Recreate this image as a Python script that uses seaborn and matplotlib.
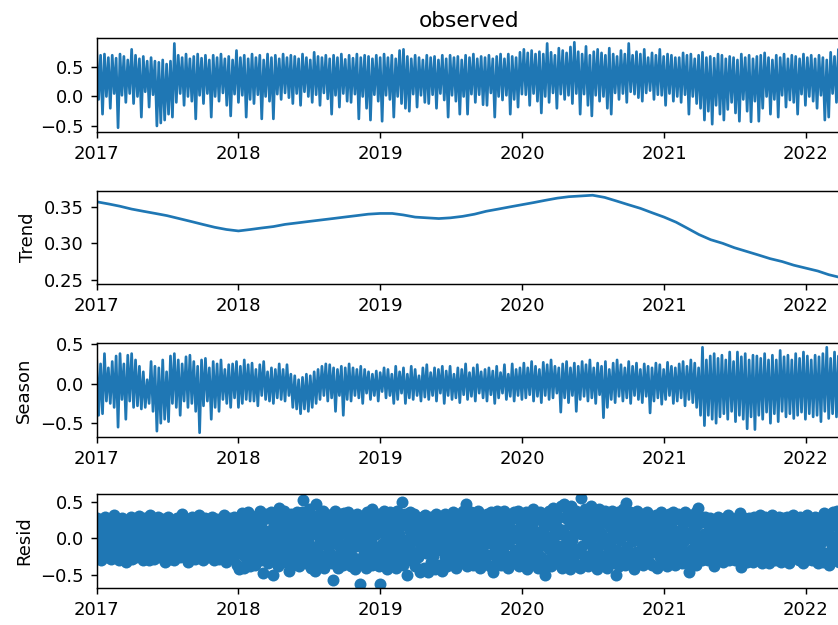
import numpy as np
import pandas as pd
import matplotlib
matplotlib.use("Agg")
import matplotlib.pyplot as plt
import matplotlib.dates as mdates
import matplotlib.ticker as mticker
import seaborn as sns

start_date = "2017-01-01"

# Observed and seasonal series: 5-day samples, values in hundredths
observed = np.array([
    78, -5, 70, -30, 72, 0, 66, -20, 70, 5,
    65, -53, 72, 2, 68, -10, 62, 5, 80, -12,
    70, 0, 64, -35, 68, 8, 60, -18, 66, 3,
    60, -50, 58, -45, 62, -40, 55, -30, 60, -35,
    90, -10, 70, 5, 66, -15, 72, 0, 64, -8,
    68, -38, 72, 2, 65, -12, 70, 5, 62, -35,
    70, 0, 66, -8, 72, 6, 64, -15, 68, -33,
    62, 4, 78, -10, 66, 2, 70, -35, 64, -5,
    72, -12, 66, 3, 70, -38, 62, 0, 72, -8,
    66, -38, 70, 4, 64, -5, 72, 6, 66, -2,
    70, -12, 68, 5, 64, -15, 72, 8, 66, 0,
    62, -10, 75, 3, 68, -15, 66, 6, 70, -4,
    64, -30, 70, 2, 66, -18, 72, 5, 63, -8,
    70, -10, 65, 4, 72, -38, 66, 0, 70, -20,
    68, -40, 64, 3, 70, -8, 66, -42, 72, 2,
    66, -5, 70, -35, 64, 0, 78, -12, 80, -20,
    68, -25, 64, 4, 70, -18, 66, 2, 62, -10,
    70, -12, 66, 3, 68, -20, 62, 5, 70, -6,
    64, -35, 70, 2, 66, -8, 68, -30, 62, 0,
    70, -30, 66, 4, 72, -10, 64, 3, 68, -14,
    66, -15, 70, 6, 64, -35, 68, 0, 72, -6,
    64, 2, 72, -30, 68, -5, 66, -18, 75, 4,
    80, 3, 74, -15, 78, 5, 72, -8, 76, -28,
    72, 0, 90, -10, 75, 6, 70, -20, 82, 4,
    78, -5, 74, 2, 84, -12, 92, 5, 76, -30,
    72, 4, 85, -15, 70, -33, 76, 2, 80, -8,
    74, 0, 70, -20, 82, -30, 72, 6, 68, -5,
    78, 5, 72, -10, 90, 8, 70, 4, 76, -2,
    72, -8, 80, 6, 66, 10, 74, -5, 70, 3,
    80, 2, 68, -15, 72, 5, 70, -8, 66, 0,
    66, -10, 74, 3, 70, -30, 72, 0, 64, -12,
    70, -20, 75, -40, 66, -25, 68, -47, 65, -15,
    72, -30, 70, -40, 64, -22, 68, -10, 66, -28,
    62, -42, 72, -5, 66, -25, 70, -43, 64, -8,
    68, -42, 70, -20, 74, 0, 66, -30, 62, -5,
    70, -35, 66, 2, 72, -18, 64, -6, 70, -10,
    68, -30, 64, 4, 72, -15, 66, 0, 70, -8,
    64, -20, 70, 2, 66, -40, 62, -35, 75, 5,
    68, -10, 80, 3, 66,
]) / 100

season = np.array([
    30, -40, 25, -38, 38, -22, 20, -25, 28, -30,
    35, -55, 38, -20, 25, -45, 36, -22, 38, -30,
    30, -28, 22, -32, 15, -30, 5, -25, 28, -35,
    22, -60, 20, -50, 30, -45, 15, -48, 35, -25,
    38, -30, 30, -40, 25, -22, 34, -30, 36, -25,
    28, -35, 22, -62, 30, -28, 32, -22, 20, -45,
    28, -30, 25, -35, 30, -20, 18, -25, 24, -30,
    25, -18, 28, -30, 22, -25, 30, -20, 24, -22,
    26, -22, 18, -28, 24, -15, 28, -20, 15, -22,
    20, -25, 18, -18, 25, -20, 18, -22, 24, -15,
    12, -30, 10, -32, 5, -38, 8, -32, 12, -35,
    10, -30, 15, -25, 18, -20, 22, -15, 25, -22,
    24, -18, 20, -35, 18, -15, 22, -40, 20, -20,
    25, -22, 20, -15, 18, -18, 22, -25, 18, -12,
    15, -20, 12, -15, 16, -22, 14, -10, 20, -18,
    18, -15, 12, -25, 22, -20, 15, -12, 20, -25,
    12, -18, 22, -20, 18, -15, 10, -22, 20, -17,
    24, -20, 14, -15, 20, -22, 18, -12, 22, -25,
    16, -15, 22, -20, 12, -18, 20, -24, 18, -14,
    25, -20, 14, -16, 20, -22, 24, -12, 15, -18,
    18, -22, 20, -14, 16, -25, 22, -18, 14, -12,
    24, -20, 12, -16, 25, -22, 18, -15, 20, -20,
    26, -18, 20, -14, 28, -22, 22, -16, 18, -24,
    27, -15, 24, -20, 30, -18, 22, -12, 20, -36,
    25, -18, 28, -24, 20, -15, 26, -35, 22, -20,
    28, -16, 24, -22, 30, -18, 20, -25, 26, -14,
    22, -43, 28, -30, 18, -20, 26, -24, 30, -16,
    24, -22, 20, -18, 28, -25, 22, -15, 26, -20,
    18, -24, 25, -16, 22, -37, 20, -22, 26, -18,
    24, -26, 18, -20, 27, -15, 22, -25, 20, -22,
    25, -18, 28, -28, 22, -20, 30, -24, 26, -30,
    20, -40, 46, -53, 30, -40, 35, -45, 38, -50,
    32, -42, 36, -38, 30, -45, 40, -35, 28, -48,
    40, -40, 34, -45, 38, -57, 30, -42, 36, -58,
    35, -40, 32, -45, 38, -36, 30, -50, 36, -38,
    30, -48, 42, -35, 34, -42, 36, -38, 30, -44,
    38, -40, 32, -36, 40, -45, 35, -38, 30, -42,
    36, -40, 34, -48, 38, -35, 46, -44, 32, -38,
    40, -42, 35, -36, 42,
]) / 100

# Residuals: 2-day samples, values in hundredths
resid = np.array([
    28, -5, -22, 12, 3, -30, 18, -12, 25, 8, -18, 30, -2, -26, 15, 22, -8, -15, 5, -28,
    20, -10, 32, 0, -25, 10, -18, 26, -4, -30, 15, 6, -14, 28, -22, 2, 18, -8, -32, 12,
    -6, 24, -20, 8, 30, -12, -28, 16, 2, -16, 22, -26, 10, -2, 31, -20, 6, -10, 26, -30,
    14, -4, 28, -24, 4, -14, 20, -30, 10, 32, -8, -20, 16, 0, -28, 24, -12, 8, -18, 30,
    -2, -26, 18, 6, -16, 26, -6, 12, -32, 22, 2, -22, 30, -10, 16, -28, 8, 24, -14, 0,
    -30, 20, -8, 10, 28, -18, 4, -26, 14, -2, 33, -12, 20, -24, 6, -6, 26, -32, 12, -16,
    22, 0, -20, 30, -10, 8, -28, 16, -4, 26, -16, 2, 32, -24, 10, -8, 20, -30, 4, -14,
    28, -6, 14, -26, 6, 22, -18, -2, 30, -12, 10, -30, 18, 0, -22, 26, -10, 4, -28, 16,
    -8, 24, -20, 8, 32, -14, 2, -32, 18, -4, 28, -24, 12, -10, 22, -28, 6, 30, -16, 0,
    20, -36, 8, -42, 30, -12, 2, 35, -22, 14, -40, 26, -6, 10, -30, 36, -16, 0, -38, 22,
    -10, 30, -28, 12, -36, 22, 4, -18, 32, -6, 38, 16, -30, 8, -47, 26, -14, 0, 34, -24,
    10, -34, 28, -8, 36, -20, 2, -50, 18, -14, 32, -28, 6, 24, -38, 42, -4, 14, -26, 30,
    -16, 38, 0, -32, 20, -8, 30, -24, -45, 12, 34, -12, 4, -36, 26, -2, 16, -28, 36, -18,
    8, -38, 24, -10, 36, -26, 52, 2, -18, 30, -34, 14, -4, 40, -22, 10, -40, 28, -12, 20,
    -28, -45, 47, 6, -14, 32, -36, 18, -2, 26, -24, 38, 0, -40, 12, 34, -10, -30, 22, 4,
    30, -20, 10, -34, -57, 24, -6, 38, 16, -28, 2, -40, 28, -12, 34, -18, 8, -36, 20, 35,
    -8, 26, -30, 12, 36, -16, 0, -38, 22, -24, 30, 6, -42, 18, -10, 34, -28, 4, 26, -62,
    14, -34, 30, -6, -20, 24, 2, -40, 36, -14, 10, -26, 32, -2, -36, 40, 18, -12, 28, -30,
    6, -22, 34, -38, 20, -62, 26, -8, 12, -30, 38, -16, 2, 30, -42, 16, -4, 36, -26, 8,
    -34, 22, -12, 32, 0, -40, 14, 38, -20, 6, -28, 28, -6, 50, -36, 18, -14, 34, -2, -24,
    -50, 26, -8, 36, 10, -30, 20, -18, 2, 33, -38, 14, -4, 28, -26, 8, -46, 24, -14, 30,
    -2, -40, 18, 32, -20, 6, -46, 26, -10, 14, -32, 30, 0, -24, 22, -42, 10, 33, -16, -6,
    24, -36, 4, 30, -14, -44, 16, -4, 34, -26, 10, -38, 22, -8, 28, -20, 2, -32, 18, 36,
    -12, 26, -40, 8, 34, -22, 14, -2, -34, 30, 2, -16, 38, -28, 20, -6, 47, -38, 12, 28,
    -24, 6, 36, -12, -36, 22, 0, 32, -30, 14, -8, 38, -20, 4, -40, 26, -14, 30, -4, 18,
    -32, 12, 34, -6, -22, 24, 2, -38, 36, 16, -46, 8, 28, -14, -2, 38, -28, 20, -10, 30,
    -36, 4, 26, -18, 38, 10, -30, 18, -8, 34, -40, 22, -2, 30, -24, 12, -34, 36, 0, -16,
    28, -26, 8, 38, -38, 16, -10, 32, -4, -32, 24, 2, -20, 36, -42, 14, 30, -14, 6, -28,
    20, -6, 40, -34, 10, -18, 30, 0, -40, 26, -12, 36, -26, 4, 22, -36, 14, -50, 32, -8,
    -30, 18, 38, -14, 2, -38, 26, -4, 42, -24, 10, 34, -34, 16, -10, 30, -20, 6, 44, -40,
    12, -28, 47, -8, 28, -36, 4, 36, -18, 20, -42, 45, -2, -30, 24, 8, -14, 38, -38, 16,
    -20, 32, -40, 6, 55, -10, 26, -32, 14, 40, -24, 0, 34, -38, 18, -6, 45, -28, 10, -16,
    36, -30, 4, 28, -42, 16, -12, 40, -22, 8, -36, 30, -4, 22, -28, 38, 0, -40, 20, -14,
    32, -8, 14, -34, 38, 2, -24, 26, -50, 10, -16, 36, -38, 20, -2, 30, -30, 6, 40, -20,
    -36, 16, 48, -12, 28, -26, 4, 36, -34, 12, -4, 30, -42, 22, -18, 8, 38, -30, 0, 26,
    -22, 34, -8, 14, -36, 24, 2, -28, 36, -14, 10, -32, 30, -4, 20, -36, 6, 28, -18, -2,
    32, -40, 12, -10, 26, -26, 4, 36, -34, 18, -6, 30, -20, 8, -38, 24, -14, 34, 0, -28,
    16, -30, 36, -8, 4, -36, 26, -18, 10, 34, -26, 2, -12, 30, -34, 20, -4, 36, -22, 8,
    -34, 24, -46, 8, 32, -16, 0, -28, 28, 14, -8, 36, -36, 18, 42, -22, 4, -12, 30, -30,
    22, -26, 6, 30, -14, -2, 26, -30, 12, -8, 28, -20, 2, 18, -24, -38, 24, -6, 10, -16,
    30, -28, 8, -12, 24, 0, -32, 16, -4, 28, -22, 12, -16, 32, -30, 4, 20, -8, -26, 26,
    -10, 14, -30, 26, 2, -20, 30, -6, 35, -39, 18, -14, 8, 28, -26, -2, 22, -32, 12, -18,
    28, -8, -24, 16, 4, -32, 30, -16, 10, -2, 26, -28, 20, -10, 32, -22, 6, -34, 24, 0,
    -14, 30, -26, 12, -4, 24, -34, 18, 2, -20, 32, -10, 8, -30, 26, -6, 14, -24, 30, -16,
    4, -32, 22, -8, 28, -18, 12, -2, -28, 30, -12, 18, -34, 6, 26, -22, 0, 32, -14, 10,
    -26, 24, -6, 14, -30, 30, 2, -16, 20, -34, 8, 28, -10, -22, 32, -4, 16, -28, 24, -12,
    6, -30, 26, -14, 12, 30, -24, -2, 18, -34, 28, -8, 22, -18, 4, -32, 14, 35, -20, 0,
    28, -26, 10, -36, 34, -6, 20, -14, 36, -30, 2, 24, -20, 38, -10, 16, -32, 30, 6, -24,
    12,
]) / 100

# Smooth trend, one value per month start
trend = [
    0.357, 0.354, 0.351, 0.347, 0.344, 0.341, 0.338, 0.334, 0.330, 0.326, 0.322, 0.319,
    0.317, 0.319, 0.321, 0.323, 0.326, 0.328, 0.330, 0.332, 0.334, 0.336, 0.338, 0.340,
    0.341, 0.341, 0.339, 0.336, 0.335, 0.334, 0.335, 0.337, 0.340, 0.344, 0.347, 0.350,
    0.353, 0.356, 0.359, 0.362, 0.364, 0.365, 0.366, 0.363, 0.358, 0.353, 0.348, 0.342,
    0.336, 0.329, 0.321, 0.312, 0.305, 0.300, 0.294, 0.289, 0.284, 0.279, 0.275, 0.270,
    0.266, 0.262, 0.257, 0.253, 0.250,
]

dates = pd.date_range(start_date, periods=len(observed), freq="5D")
resid_dates = pd.date_range(start_date, periods=len(resid), freq="2D")
trend_dates = pd.date_range(start_date, periods=len(trend), freq="MS")

plt.style.use("default")
color = "#1f77b4"

W, H = 838, 625
fig = plt.figure(figsize=(W / 130, H / 130), dpi=130)

left = 96.7 / W
width = (842.3 - 96.7) / W
panels = [(38, 132), (191, 284), (343, 437), (494, 588)]
axes = [fig.add_axes([left, (H - b) / H, width, (b - t) / H]) for t, b in panels]
ax_obs, ax_trend, ax_season, ax_resid = axes

sns.lineplot(x=dates, y=observed, ax=ax_obs, color=color, linewidth=1.5)
sns.lineplot(x=trend_dates, y=trend, ax=ax_trend, color=color, linewidth=1.5)
sns.lineplot(x=dates, y=season, ax=ax_season, color=color, linewidth=1.5)
sns.scatterplot(x=resid_dates, y=resid, ax=ax_resid, color=color, s=44,
                linewidth=0, alpha=1)

ax_obs.set_title("observed", fontsize=12)
ax_obs.set_ylabel("")
ax_trend.set_ylabel("Trend")
ax_season.set_ylabel("Season")
ax_resid.set_ylabel("Resid")

for ax in axes:
    ax.set_xlim(dates[0], dates[-1])
    ax.set_xlabel("")
    ax.xaxis.set_major_locator(mdates.YearLocator())
    ax.xaxis.set_major_formatter(mdates.DateFormatter("%Y"))

one_dec = mticker.FuncFormatter(lambda v, _: f"{v:.1f}".replace("-", "\u2212"))
for ax in (ax_obs, ax_season, ax_resid):
    ax.set_yticks([-0.5, 0.0, 0.5])
    ax.yaxis.set_major_formatter(one_dec)
ax_trend.set_yticks([0.25, 0.30, 0.35])
ax_trend.yaxis.set_major_formatter(mticker.FormatStrFormatter("%.2f"))

fig.savefig("out.png", dpi=130)
